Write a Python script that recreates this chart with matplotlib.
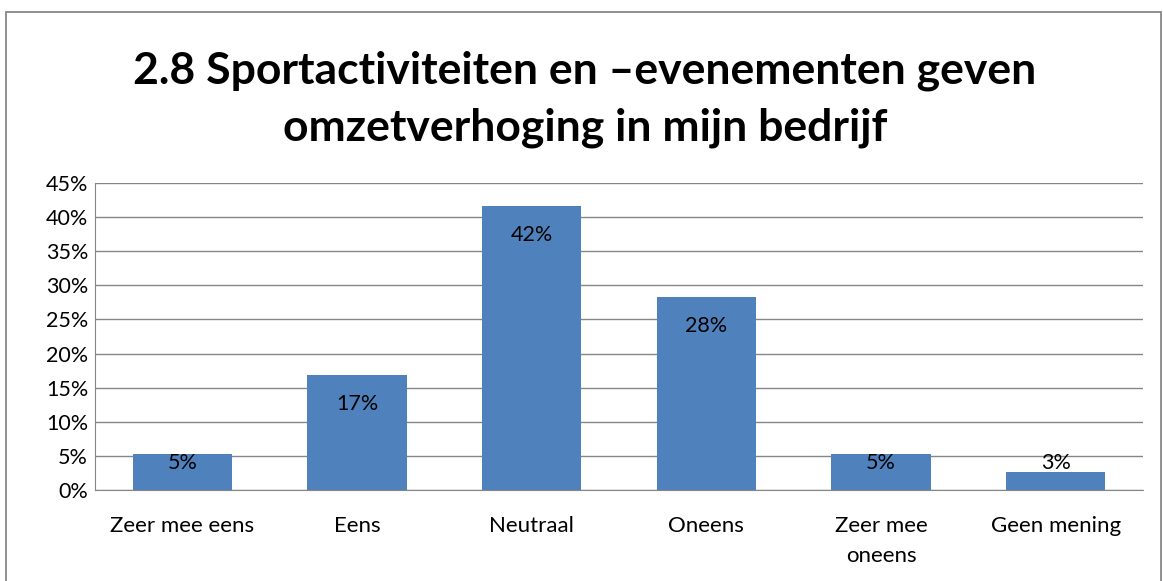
import matplotlib

matplotlib.use("Agg")
import matplotlib.pyplot as plt  # noqa: E402
from matplotlib.patches import Rectangle  # noqa: E402
from matplotlib.ticker import PercentFormatter  # noqa: E402

plt.rcParams["font.family"] = ["Lato", "DejaVu Sans"]

TITLE = "2.8 Sportactiviteiten en \u2013evenementen geven\nomzetverhoging in mijn bedrijf"
categories = ["Zeer mee eens", "Eens", "Neutraal", "Oneens", "Zeer mee\noneens", "Geen mening"]
shares = [0.053, 0.168, 0.416, 0.283, 0.053, 0.027]
yticks = [i * 0.05 for i in range(10)]

BAR = "#4f81bd"
GRID = "#868686"

fig = plt.figure(figsize=(11.63, 5.81), dpi=100)
fig.patches.append(Rectangle((6 / 1163, -0.05), 1155 / 1163, 1.05 - 12 / 581,
                             transform=fig.transFigure, fill=False,
                             edgecolor="#878787", lw=1.3))
ax = fig.add_axes([95 / 1163, 1 - 490 / 581, 1048 / 1163, 307 / 581])

x = range(len(categories))
ax.bar(x, shares, width=0.57, color=BAR, zorder=3)
for i, v in zip(x, shares):
    ax.text(i, max(v - 0.042, 0.04), f"{v:.0%}", ha="center", va="center",
            fontsize=15.5, zorder=4)

ax.set_xlim(-0.5, len(categories) - 0.5)
ax.set_ylim(0, 0.45)
ax.set_yticks(yticks)
ax.yaxis.set_major_formatter(PercentFormatter(1.0, decimals=0))
ax.set_xticks(list(x))
ax.set_xticklabels(categories, fontsize=16, linespacing=1.6)
ax.tick_params(axis="y", labelsize=15.5, length=0, pad=5)
ax.tick_params(axis="x", length=0, pad=19)
ax.grid(axis="y", color=GRID, lw=1, zorder=1)
for s in ("top", "right"):
    ax.spines[s].set_visible(False)
for s in ("left", "bottom"):
    ax.spines[s].set_color(GRID)
    ax.spines[s].set_zorder(5)

fig.text(0.503, 1 - 99 / 581, TITLE, ha="center", va="center", fontsize=32,
         fontweight="bold", linespacing=1.5)

fig.savefig("out.png", dpi=100)
